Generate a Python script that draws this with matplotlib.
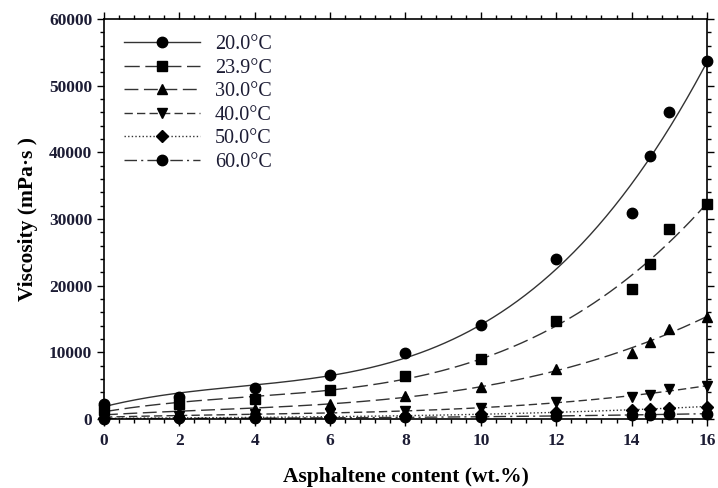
import numpy as np
import matplotlib
matplotlib.use("Agg")
import matplotlib.pyplot as plt
from matplotlib.lines import Line2D
from matplotlib.ticker import MultipleLocator

plt.rcParams['font.family'] = ['Liberation Serif', 'DejaVu Serif']

asphaltene = [0, 2, 4, 6, 8, 10, 12, 14, 14.5, 15, 16]
labels = ["20.0°C", "23.9°C", "30.0°C", "40.0°C", "50.0°C", "60.0°C"]
visc_20_0 = [2300, 3350, 4600, 6600, 9900, 14100, 24000, 30900, 39450, 46050, 53700]
visc_23_9 = [1300, 2300, 3000, 4350, 6500, 9000, 14700, 19500, 23200, 28500, 32300]
visc_30_0 = [700, 1100, 1500, 2300, 3450, 4800, 7500, 9900, 11600, 13500, 15350]
visc_40_0 = [300, 500, 700, 900, 1200, 1700, 2600, 3300, 3600, 4500, 5000]
visc_50_0 = [100, 150, 250, 350, 500, 700, 1000, 1350, 1500, 1700, 1850]
visc_60_0 = [50, 80, 120, 170, 250, 350, 450, 600, 650, 700, 800]

series = [visc_20_0, visc_23_9, visc_30_0, visc_40_0, visc_50_0, visc_60_0]
markers = ['o', 's', '^', 'v', 'D', 'o']
msizes = [7.5, 6.8, 7.2, 7.2, 6.2, 7.5]
styles = ['-', (0, (11, 4)), (0, (10, 4)), (0, (6, 3)), (0, (1, 1.6)), (0, (9, 3, 1.5, 3))]
line_color = '#333333'
text_color = '#1c1c34'

fig = plt.figure(figsize=(7.18, 4.88), dpi=100)
ax = fig.add_axes([0.1448, 0.1414, 0.8399, 0.8196])

x = np.array(asphaltene, dtype=float)
xs = np.linspace(0, 16, 300)
handles = []
for vals, m, ms, ls, lab in zip(series, markers, msizes, styles, labels):
    y = np.array(vals, dtype=float)
    coef = np.polyfit(x, y, 3)
    ax.plot(xs, np.polyval(coef, xs), color=line_color, lw=1.0, linestyle=ls, zorder=2)
    ax.plot(x, y, linestyle='none', marker=m, ms=ms, color='black', zorder=3, clip_on=False)
    handles.append(Line2D([], [], color=line_color, lw=1.0, linestyle=ls, marker=m,
                          ms=ms, markerfacecolor='black', markeredgecolor='black', label=lab))

ax.set_xlim(0, 16)
ax.set_ylim(0, 60000)
ax.xaxis.set_major_locator(MultipleLocator(2))
ax.xaxis.set_minor_locator(MultipleLocator(0.4))
ax.yaxis.set_major_locator(MultipleLocator(10000))
ax.yaxis.set_minor_locator(MultipleLocator(2000))
ax.tick_params(which='both', direction='out', top=True, right=True,
               labeltop=False, labelright=False, width=1.0, colors='black')
ax.tick_params(which='major', length=5, labelsize=12.5, labelcolor=text_color)
ax.tick_params(which='minor', length=3)
ax.tick_params(axis='x', which='major', pad=5)
for lbl in ax.get_xticklabels() + ax.get_yticklabels():
    lbl.set_fontweight('bold')
for sp in ax.spines.values():
    sp.set_linewidth(1.2)

ax.set_xlabel('Asphaltene content (wt.%)', fontsize=15.5, fontweight='bold', labelpad=13)
ax.set_ylabel('Viscosity (mPa·s )', fontsize=15.5, fontweight='bold', labelpad=8)

leg = ax.legend(handles=handles, loc='upper left', frameon=False, fontsize=14.5,
                handlelength=3.75, handletextpad=0.75, labelspacing=0.22,
                bbox_to_anchor=(0.0, 1.01), borderaxespad=0.6)
for t in leg.get_texts():
    t.set_color(text_color)

fig.savefig('out.png', dpi=100)
